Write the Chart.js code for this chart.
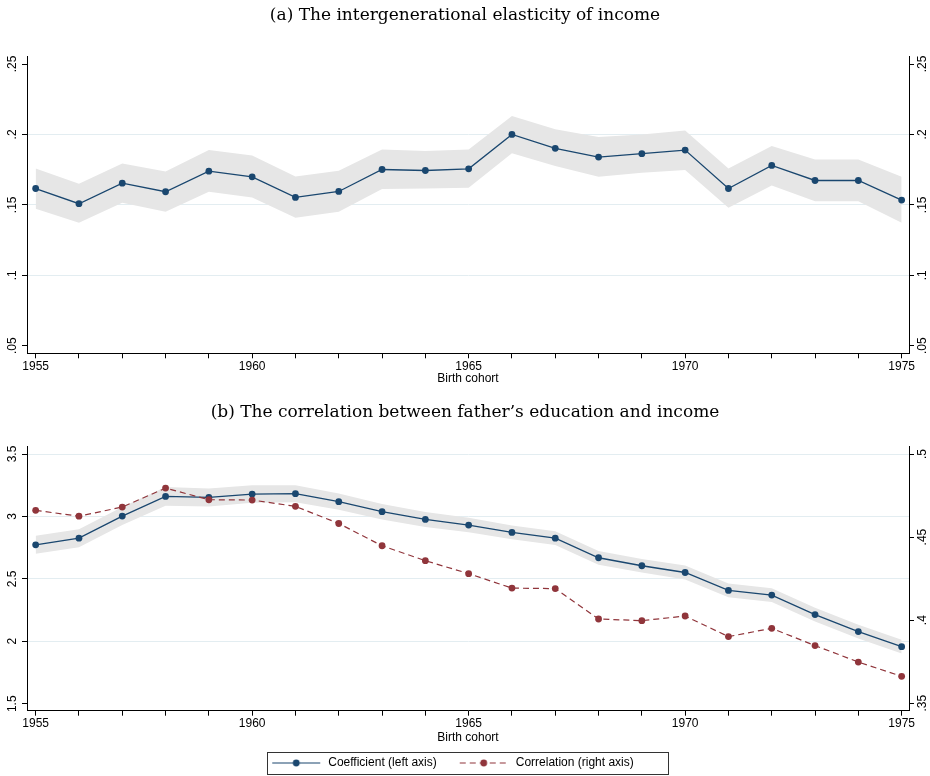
<!DOCTYPE html>
<html><head><meta charset="utf-8">
<script src="https://cdn.jsdelivr.net/npm/chart.js@4/dist/chart.umd.min.js"></script>
<style>
html,body{margin:0;padding:0;background:#fff;}
body{width:930px;height:776px;overflow:hidden;position:relative;}
#ca{position:absolute;left:0;top:0;}
#cb{position:absolute;left:0;top:392px;}
</style>
</head><body>
<canvas id="ca" width="930" height="392"></canvas>
<canvas id="cb" width="930" height="387"></canvas>
<script>
// ---------- data ----------
const cohorts = [1955,1956,1957,1958,1959,1960,1961,1962,1963,1964,1965,1966,1967,1968,1969,1970,1971,1972,1973,1974,1975];
const xTickLabels = [1955,1960,1965,1970,1975];

// (a) intergenerational elasticity of income
const igeCoef  = [0.1616,0.1508,0.1654,0.1593,0.1739,0.1699,0.1553,0.1595,0.1751,0.1744,0.1756,0.2000,0.1901,0.1839,0.1863,0.1889,0.1616,0.1780,0.1673,0.1673,0.1534];
const igeUpper = [0.1758,0.1650,0.1794,0.1737,0.1889,0.1851,0.1702,0.1742,0.1893,0.1882,0.1893,0.2130,0.2036,0.1981,0.2000,0.2028,0.1758,0.1917,0.1822,0.1822,0.1699];
const igeLower = [0.1472,0.1373,0.1515,0.1451,0.1593,0.1553,0.1408,0.1451,0.1612,0.1616,0.1621,0.1867,0.1775,0.1699,0.1728,0.1747,0.1479,0.1638,0.1526,0.1526,0.1373];
const igeTicks = [0.05,0.1,0.15,0.2,0.25];

// (b) father's education and income
const eduCoef  = [2.773,2.826,3.003,3.160,3.152,3.179,3.182,3.118,3.038,2.976,2.931,2.872,2.826,2.669,2.605,2.551,2.407,2.370,2.214,2.078,1.957];
const eduUpper = [2.845,2.898,3.075,3.235,3.224,3.249,3.250,3.183,3.100,3.036,2.989,2.927,2.881,2.724,2.660,2.607,2.462,2.425,2.269,2.133,2.012];
const eduLower = [2.701,2.754,2.931,3.085,3.080,3.109,3.114,3.053,2.976,2.916,2.873,2.817,2.771,2.614,2.550,2.495,2.352,2.315,2.159,2.023,1.902];
const eduCorr  = [0.4661,0.4626,0.4681,0.4795,0.4725,0.4723,0.4685,0.4582,0.4448,0.4358,0.4280,0.4193,0.4190,0.4007,0.3997,0.4025,0.3901,0.3951,0.3847,0.3748,0.3662];
const coefTicks = [1.5,2,2.5,3,3.5];
const corrTicks = [0.35,0.4,0.45,0.5];

const titleA = '(a) The intergenerational elasticity of income';
const titleB = '(b) The correlation between father\u2019s education and income';
const xTitle = 'Birth cohort';
const legendLabels = ['Coefficient (left axis)','Correlation (right axis)'];

// ---------- style ----------
const NAVY = '#1a476f', MAROON = '#90353b', BAND = '#e6e6e6', GRID = '#e3edf1', AXIS = '#000';
const tickFont = {family:'Liberation Sans, Arial, sans-serif', size:12};
const titleFont = {family:'DejaVu Serif, serif', size:17, weight:'normal'};

const pts = (ys) => cohorts.map((c,i)=>({x:c, y:ys[i]}));
const fmtDec = v => String(v).replace(/^0\./,'.');

function xScale(areaBottom, titlePadBottom, fromLegend){
  return {
    type:'linear', min:1954.8, max:1975.17,
    afterBuildTicks: s => { s.ticks = cohorts.map(v=>({value:v})); },
    ticks:{autoSkip:false, maxRotation:0, minRotation:0, padding:1, color:'#000', font:tickFont,
           callback: v => xTickLabels.includes(v) ? String(v) : ''},
    grid:{drawOnChartArea:false, drawTicks:true, tickLength:5, tickColor:AXIS, color:AXIS},
    border:{display:true, color:AXIS, width:1},
    title:{display:true, text:xTitle, color:'#000', font:tickFont, padding:{top:0,bottom:titlePadBottom}},
    afterFit: s => { const lg = fromLegend && s.chart.legend ? s.chart.legend.height : 0; s.height = s.chart.height - lg - areaBottom; }
  };
}
function yScale(pos, min, max, ticks, width, pad, gridSkip){
  return {
    type:'linear', position:pos, min:min, max:max,
    afterBuildTicks: s => { s.ticks = ticks.map(v=>({value:v})); },
    ticks:{minRotation:90, maxRotation:90, crossAlign:'center', padding:pad, color:'#000', font:tickFont,
           callback: v => fmtDec(v)},
    grid:{drawOnChartArea: pos==='left', drawTicks:true, tickLength:5, tickColor:AXIS,
          color: c => (c.tick && gridSkip.includes(c.tick.value)) ? 'rgba(0,0,0,0)' : GRID, lineWidth:1},
    border:{display:true, color:AXIS, width:1},
    afterFit: s => { s.width = width; }
  };
}

const bandSets = (up, lo, axis) => [
  {data:pts(up), yAxisID:axis, borderWidth:0, pointRadius:0, fill:false, order:6, borderColor:'rgba(0,0,0,0)'},
  {data:pts(lo), yAxisID:axis, borderWidth:0, pointRadius:0, fill:'-1', backgroundColor:BAND, order:5, borderColor:'rgba(0,0,0,0)'}
];

Chart.defaults.font.family = 'Liberation Sans, Arial, sans-serif';

// ---------- chart (a) ----------
new Chart(document.getElementById('ca'), {
  type:'line',
  data:{datasets:[
    ...bandSets(igeUpper, igeLower, 'y'),
    {data:pts(igeCoef), yAxisID:'y', borderColor:NAVY, borderWidth:1.3, pointRadius:3.4, pointBackgroundColor:NAVY, pointBorderWidth:0, tension:0, fill:false, order:1}
  ]},
  options:{
    responsive:false, animation:false, devicePixelRatio:1, events:[],
    layout:{padding:0},
    plugins:{
      legend:{display:false}, tooltip:{enabled:false},
      title:{display:true, text:titleA, color:'#000', font:titleFont, padding:{top:5, bottom:31}}
    },
    scales:{
      x: xScale(353.3, 5.8, false),
      y: yScale('left', 0.0446, 0.2554, igeTicks, 27, 1.2, [0.05,0.25]),
      y2: yScale('right', 0.0446, 0.2554, igeTicks, 21, 0.5, [])
    }
  }
});

// ---------- chart (b) ----------
function legendSymbol(color, dashed){
  const c = document.createElement('canvas'); c.width = 65; c.height = 12;
  const g = c.getContext('2d');
  g.strokeStyle = color; g.lineWidth = 1.2;
  if (dashed) g.setLineDash([6,4]);
  g.beginPath(); g.moveTo(15,6); g.lineTo(63,6); g.stroke();
  g.setLineDash([]);
  g.fillStyle = color; g.beginPath(); g.arc(39,6,3.4,0,Math.PI*2); g.fill();
  return c;
}
const symCoef = legendSymbol(NAVY,false), symCorr = legendSymbol(MAROON,true);

const legendFrame = {
  id:'legendFrame',
  afterLayout(chart){ if (chart.legend) { chart.legend.left -= 39; } },
  afterDraw(chart){
    const lg = chart.legend; if (!lg || !lg.legendHitBoxes || !lg.legendHitBoxes.length) return;
    const hb = lg.legendHitBoxes, a = hb[0], b = hb[hb.length-1];
    const cy = a.top + a.height/2;
    const ctx = chart.ctx; ctx.save();
    ctx.strokeStyle = '#333'; ctx.lineWidth = 1;
    const l = Math.round(a.left + 10) + 0.5, r = Math.round(b.left + b.width + 34) + 0.5;
    const t = Math.round(cy - 11) + 0.5, btm = Math.round(cy + 11) + 0.5;
    ctx.strokeRect(l, t, r - l, btm - t);
    ctx.restore();
  }
};

new Chart(document.getElementById('cb'), {
  type:'line',
  data:{datasets:[
    ...bandSets(eduUpper, eduLower, 'y'),
    {label:legendLabels[0], data:pts(eduCoef), yAxisID:'y', borderColor:NAVY, borderWidth:1.3, pointRadius:3.4, pointBackgroundColor:NAVY, pointBorderWidth:0, tension:0, fill:false, order:1},
    {label:legendLabels[1], data:pts(eduCorr), yAxisID:'y2', borderColor:MAROON, borderWidth:1.2, borderDash:[6,4], pointRadius:3.4, pointBackgroundColor:MAROON, pointBorderWidth:0, tension:0, fill:false, order:0}
  ]},
  options:{
    responsive:false, animation:false, devicePixelRatio:1, events:[],
    layout:{padding:0},
    plugins:{
      tooltip:{enabled:false},
      title:{display:true, text:titleB, color:'#000', font:titleFont, padding:{top:10, bottom:24}},
      legend:{display:true, position:'bottom', align:'center',
        labels:{usePointStyle:true, pointStyleWidth:65, padding:8, color:'#000', font:tickFont,
          generateLabels: () => [
            {text:legendLabels[0], pointStyle:symCoef, fillStyle:NAVY, strokeStyle:NAVY, lineWidth:0, hidden:false, datasetIndex:2, fontColor:'#000'},
            {text:legendLabels[1], pointStyle:symCorr, fillStyle:MAROON, strokeStyle:MAROON, lineWidth:0, hidden:false, datasetIndex:3, fontColor:'#000'}
          ]}
      }
    },
    scales:{
      x: xScale(318.7, 3.8, true),
      y: yScale('left', 1.444, 3.561, coefTicks, 27, 1.2, [1.5]),
      y2: yScale('right', 0.3455, 0.5046, corrTicks, 21, 0.5, [])
    }
  },
  plugins:[legendFrame]
});
</script>
</body></html>
